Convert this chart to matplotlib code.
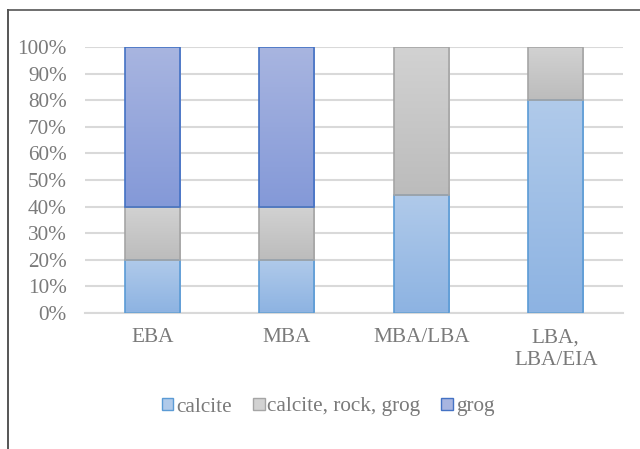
import numpy as np
import matplotlib
matplotlib.use("Agg")
import matplotlib.pyplot as plt
import matplotlib.patches as patches
from matplotlib.colors import LinearSegmentedColormap
from matplotlib.lines import Line2D
from matplotlib.ticker import PercentFormatter

periods = ["EBA", "MBA", "MBA/LBA", "LBA,\nLBA/EIA"]
series = ["calcite", "calcite, rock, grog", "grog"]
calcite = [20, 20, 44.4, 80]
mixed = [20, 20, 55.6, 20]
grog = [60, 60, 0, 0]

# top colour, bottom colour, edge colour for each series
styles = [
    ("#B0CAEA", "#8DB3E2", "#5B9BD5"),
    ("#D2D2D2", "#BCBCBC", "#A5A5A5"),
    ("#A8B5E0", "#8499D8", "#4472C4"),
]

plt.rcParams["font.family"] = ["Liberation Serif", "DejaVu Serif"]
text_color = "#7A7A7A"
fs = 15.3

fig = plt.figure(figsize=(6.4, 4.49), dpi=100)
ax = fig.add_axes([85 / 640, 1 - 313 / 449, 538 / 640, 266 / 449])

x = np.arange(len(periods))
width = 0.41
bottom = np.zeros(len(periods))
handles = []
for vals, name, (c_top, c_bot, c_edge) in zip([calcite, mixed, grog], series, styles):
    bars = ax.bar(x, vals, width, bottom=bottom, facecolor="none",
                  edgecolor=c_edge, linewidth=1.2, zorder=3)
    cmap = LinearSegmentedColormap.from_list(name, [c_bot, c_top])
    grad = np.linspace(0, 1, 100).reshape(-1, 1)
    for b in bars:
        if b.get_height() <= 0:
            b.set_visible(False)
            continue
        x0, y0 = b.get_x(), b.get_y()
        ax.imshow(grad, cmap=cmap, origin="lower", aspect="auto",
                  extent=[x0, x0 + b.get_width(), y0, y0 + b.get_height()],
                  zorder=2)
    bottom += np.array(vals)
    handles.append(patches.Patch(facecolor=c_top, edgecolor=c_edge, label=name))

ax.set_xlim(-0.5, len(periods) - 0.5)
ax.set_ylim(0, 100)
ax.set_yticks(np.arange(0, 101, 10))
ax.yaxis.set_major_formatter(PercentFormatter(decimals=0))
ax.set_xticks(x)
ax.set_xticklabels(periods, linespacing=1.3)
ax.grid(axis="y", color="#D9D9D9", linewidth=1.5, zorder=0)
ax.set_axisbelow(True)
for s in ["top", "right", "left"]:
    ax.spines[s].set_visible(False)
ax.spines["bottom"].set_color("#D9D9D9")
ax.spines["bottom"].set_linewidth(1.5)
ax.tick_params(axis="both", length=0, labelsize=fs, colors=text_color)
ax.tick_params(axis="y", pad=13)
ax.tick_params(axis="x", pad=11)

fig.legend(handles=handles, loc="center", bbox_to_anchor=(328 / 640, 1 - 407 / 449),
           ncol=3, frameon=False, fontsize=fs, labelcolor=text_color,
           handlelength=0.55, handleheight=0.55, handletextpad=0.12,
           columnspacing=1.0)

# chart frame, only top and left edges show
fig.add_artist(Line2D([7.5 / 640, 1], [1 - 9.5 / 449, 1 - 9.5 / 449],
                      color="#6E6E6E", linewidth=1.4))
fig.add_artist(Line2D([7.5 / 640, 7.5 / 640], [0, 1 - 9.5 / 449],
                      color="#555555", linewidth=1.4))

fig.savefig("out.png", dpi=100)
